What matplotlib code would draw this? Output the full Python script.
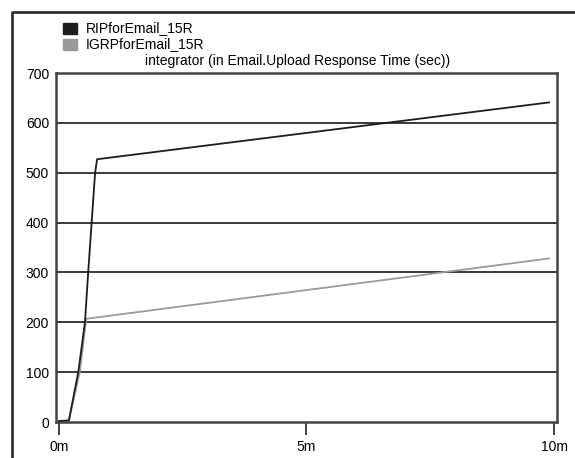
import matplotlib.pyplot as plt
from matplotlib.lines import Line2D
from matplotlib.patches import Rectangle

plt.rcParams['font.family'] = ['Liberation Sans', 'DejaVu Sans']

# minutes vs. integrated response time
rip_x = [0, 0.2, 0.39, 0.525, 0.59, 0.66, 0.73, 0.77, 9.9]
rip_y = [2, 3, 100, 200, 300, 400, 500, 527, 641]
igrp_x = [0, 0.2, 0.42, 0.55, 9.9]
igrp_y = [2, 3, 100, 207, 328]

series_names = ['RIPforEmail_15R', 'IGRPforEmail_15R']
series_colors = ['#1e1c1d', '#9a9a9a']
title = 'integrator (in Email.Upload Response Time (sec))'
x_ticks = [0, 5, 10]
x_labels = ['0m', '5m', '10m']
y_ticks = [0, 100, 200, 300, 400, 500, 600, 700]

fs = 10

fig = plt.figure(figsize=(5.75, 4.58), dpi=100)
W, H = 575, 458
ax = fig.add_axes([56 / W, 1 - 422 / H, 501 / W, 349 / H])

for yv in y_ticks[1:-1]:
    ax.axhline(yv, color='#2a2a2a', lw=1.3, zorder=1)

ax.plot(igrp_x, igrp_y, color=series_colors[1], lw=1.3, zorder=3)
ax.plot(rip_x, rip_y, color=series_colors[0], lw=1.3, zorder=4)

ax.set_xlim(-0.06, 10.06)
ax.set_ylim(0, 700)
ax.set_xticks(x_ticks)
ax.set_xticklabels(x_labels)
ax.set_yticks(y_ticks)
ax.tick_params(axis='y', length=0, pad=5, labelsize=fs)
ax.tick_params(axis='x', length=9, width=1.3, color='#333333', pad=4,
               labelsize=fs, direction='out')
for s in ax.spines.values():
    s.set_color('#444444')
    s.set_linewidth(1.8)

# outer frame (open to the right and bottom)
fig.add_artist(Line2D([12 / W, 12 / W, 1.0], [0, 1 - 12 / H, 1 - 12 / H],
                      transform=fig.transFigure, color='#333333', lw=2))

# legend swatches and labels
for i, (name, col) in enumerate(zip(series_names, series_colors)):
    top = 23 + i * 16
    fig.add_artist(Rectangle((63 / W, 1 - (top + 11) / H), 14 / W, 11 / H,
                             transform=fig.transFigure, color=col))
    fig.text(86 / W, 1 - (top + 5.5) / H, name, fontsize=fs,
             va='center', ha='left')

fig.text(298 / W, 1 - 61 / H, title, fontsize=fs, ha='center', va='center')

fig.savefig('out.png', dpi=100)
